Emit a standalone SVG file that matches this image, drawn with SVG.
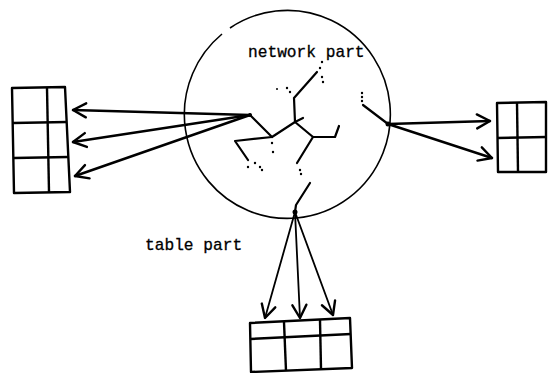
<svg xmlns="http://www.w3.org/2000/svg" width="548" height="373" viewBox="0 0 548 373">
<style>
.lbl{font-family:"Liberation Mono","DejaVu Sans Mono",monospace;font-size:16.2px;fill:#000;stroke:#000;stroke-width:0.3}
.circ{fill:none;stroke:#000;stroke-width:1.6}
.net{fill:none;stroke:#000;stroke-width:2.2;stroke-linecap:round;stroke-linejoin:round}
.dot{fill:#000}
.tbl{fill:none;stroke:#000;stroke-width:2.4;stroke-linejoin:round}
.conn{fill:none;stroke:#000;stroke-width:2.4;stroke-linecap:round}
.conn2{fill:none;stroke:#000;stroke-width:1.8;stroke-linecap:round}
</style>
<defs>
<marker id="ah" markerUnits="userSpaceOnUse" viewBox="-16 -10 20 20" refX="0" refY="0" markerWidth="20" markerHeight="20" orient="auto">
<path d="M-13,-7 L0,0 L-13,7" fill="none" stroke="#000" stroke-width="2.4" stroke-linecap="round" stroke-linejoin="round"/>
</marker>
</defs>
<rect width="548" height="373" fill="#fff"/>
<g id="network">
<path class="circ" d="M230,28 A103,104 0 1 1 222,34"/>
<text class="lbl" x="248" y="57">network part</text>
<g class="net">
<polyline points="250,115 272,137 295,122 303,118"/>
<polyline points="295,122 294,98 317,72"/>
<polyline points="295,122 313,137 335,137 339,126"/>
<polyline points="313,137 297,163"/>
<polyline points="272,137 235,141 248,160"/>
<polyline points="363,105 388,124"/>
<polyline points="310,183 296,205 295,212"/>
</g>
<g class="dot">
<circle cx="322" cy="62" r="1.2"/><circle cx="320" cy="68" r="1.2"/><circle cx="322" cy="77" r="1.2"/><circle cx="323" cy="82" r="1.2"/>
<circle cx="277" cy="89" r="1"/><circle cx="287" cy="88" r="1.2"/><circle cx="290" cy="92" r="1.2"/>
<circle cx="300" cy="170" r="1.2"/><circle cx="301" cy="174" r="1.2"/>
<circle cx="248" cy="167" r="1.2"/><circle cx="255" cy="163" r="1.2"/><circle cx="260" cy="167" r="1.2"/><circle cx="262" cy="170" r="1.2"/>
<circle cx="272" cy="143" r="1.2"/><circle cx="273" cy="152" r="1.2"/>
<circle cx="362" cy="93" r="1.2"/><circle cx="362" cy="97" r="1.2"/><circle cx="362" cy="101" r="1.2"/>
<circle cx="250" cy="115" r="2"/><circle cx="388" cy="124" r="2.5"/><circle cx="295" cy="212" r="2.5"/>
</g>
</g>
<g id="table-part-label">
<text class="lbl" x="145" y="250">table part</text>
</g>
<g id="left-table" class="tbl">
<path d="M12,88 L65,87 L70,192 L14,193 Z"/>
<path d="M47,88 L49,192"/>
<path d="M13,123 L67,122"/>
<path d="M14,158 L68,157"/>
</g>
<g id="right-table" class="tbl">
<path d="M497,103 L546,102 L546,172 L498,172 Z"/>
<path d="M517,103 L518,172"/>
<path d="M497,138 L546,137"/>
</g>
<g id="bottom-table" class="tbl">
<path d="M250,323 L350,318 L352,368 L251,372 Z"/>
<path d="M284,322 L286,371"/>
<path d="M320,320 L321,369"/>
<path d="M250,339 L351,334"/>
</g>
<g id="connectors">
<line class="conn" x1="250" y1="115" x2="73" y2="110" marker-end="url(#ah)"/>
<line class="conn" x1="250" y1="115" x2="73" y2="142" marker-end="url(#ah)"/>
<line class="conn" x1="250" y1="115" x2="75" y2="176" marker-end="url(#ah)"/>
<line class="conn" x1="388" y1="124" x2="490" y2="121" marker-end="url(#ah)"/>
<line class="conn" x1="388" y1="124" x2="492" y2="158" marker-end="url(#ah)"/>
<line class="conn2" x1="295" y1="212" x2="265" y2="318" marker-end="url(#ah)"/>
<line class="conn2" x1="295" y1="212" x2="300" y2="318" marker-end="url(#ah)"/>
<line class="conn2" x1="295" y1="212" x2="333" y2="315" marker-end="url(#ah)"/>
</g>
</svg>
